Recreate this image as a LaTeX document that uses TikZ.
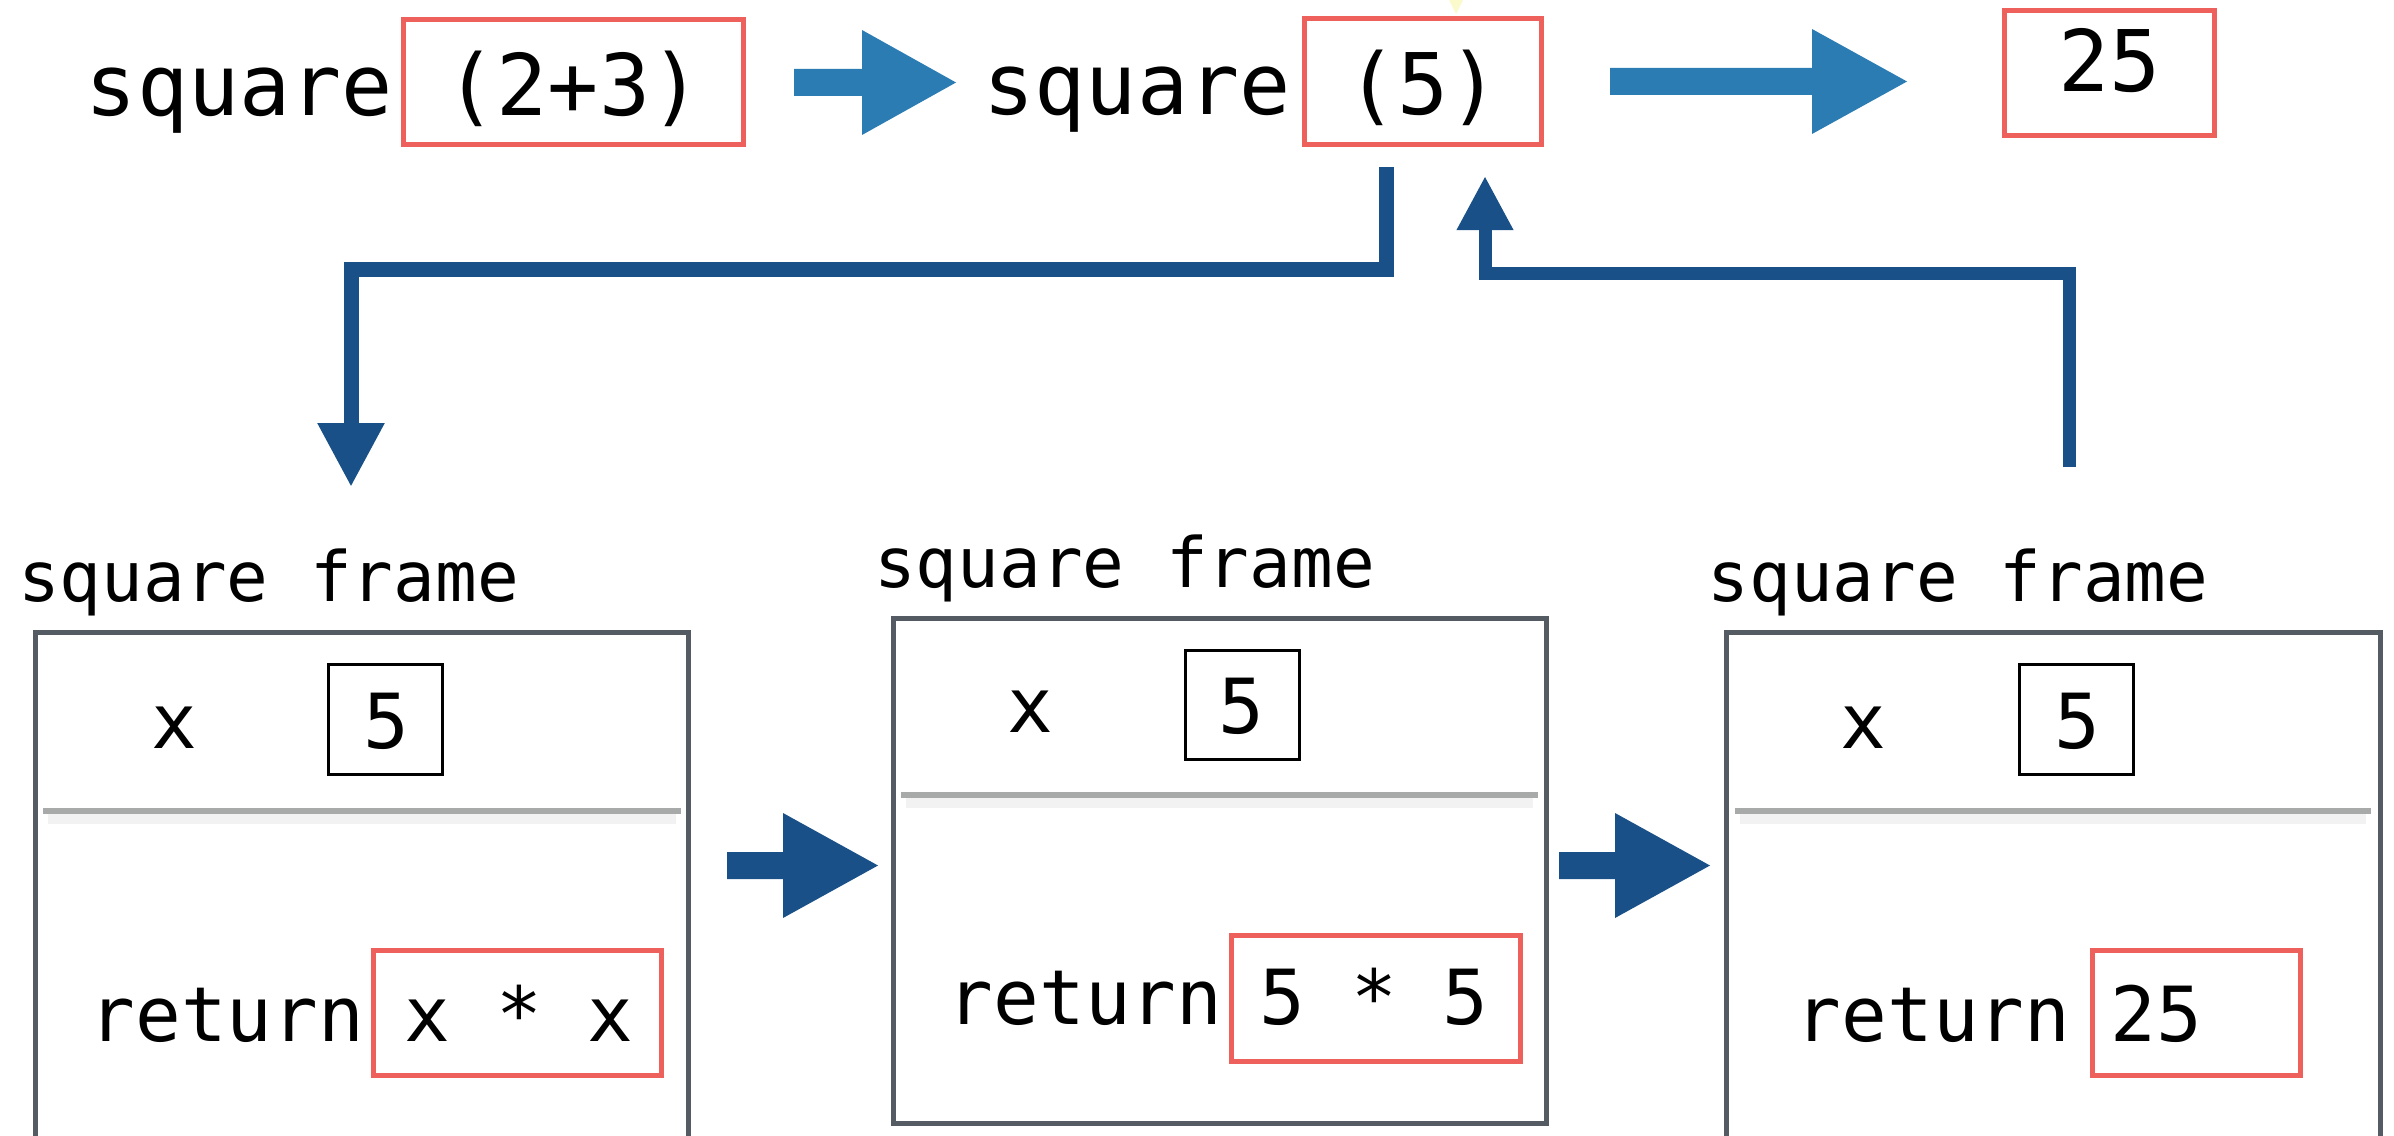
\documentclass[tikz,border=0pt]{standalone}
\usepackage{fontspec}
\newfontfamily\monof{DejaVu Sans Mono}
\usetikzlibrary{arrows.meta,calc}
\definecolor{redbox}{RGB}{238,96,92}
\definecolor{topblue}{RGB}{43,124,178}
\definecolor{darkblue}{RGB}{24,80,135}
\definecolor{framegray}{RGB}{85,91,99}
\definecolor{sepgray}{RGB}{168,170,170}
\definecolor{sepshadow}{RGB}{242,242,242}
\definecolor{pale}{RGB}{250,250,205}
\begin{document}
\begin{tikzpicture}[x=0.3pt,y=-0.3pt,
  every node/.style={inner sep=0pt,outer sep=0pt},
  toptext/.style={font=\monof\fontsize{25.5}{30}\selectfont},
  bodytext/.style={font=\monof\fontsize{22.8}{27}\selectfont,anchor=base},
  labeltext/.style={font=\monof\fontsize{20.8}{25}\selectfont,anchor=base},
  rbox/.style={draw=redbox,line width=1.5pt},
  kbox/.style={draw=black,line width=0.9pt},
  framebox/.style={draw=framegray,line width=1.7pt},
  sepline/.style={draw=sepgray,line width=1.6pt},
  sepshade/.style={draw=sepshadow,line width=3.5pt},
  callconn/.style={draw=darkblue,line width=4.5pt,line join=miter,
    -{Triangle[length=19.2pt,width=18.9pt]}},
  retconn/.style={draw=darkblue,line width=3.9pt,line join=miter,
    -{Triangle[length=16.2pt,width=15.9pt]}}]
\useasboundingbox (0,0) rectangle (2394,1135);
\clip (0,0) rectangle (2394,1135);

% ---------- top row ----------
\node[toptext,anchor=base] (sq1) at (239.5,116) {square};
\node[rbox,toptext,minimum width=340*0.3pt,text height=96.5*0.3pt,text depth=28.5*0.3pt]
  (A) at (573.5,82) {(2+3)};
\node[toptext,anchor=base] (sq2) at (1137,115) {square};
\node[rbox,toptext,minimum width=237*0.3pt,text height=96.5*0.3pt,text depth=29.5*0.3pt]
  (B) at (1423,81.5) {(5)};
\node[rbox,toptext,minimum width=210*0.3pt,text height=81.5*0.3pt,text depth=43.5*0.3pt]
  (C) at (2109.5,73) {25};

\fill[pale] (1449,0) -- (1463,0) -- (1456,14) -- cycle;

% top block arrows
\fill[topblue] (794,69) -- (862,69) -- (862,30) -- (956,82.5) -- (862,135) -- (862,96) -- (794,96) -- cycle;
\fill[topblue] (1610,68) -- (1812,68) -- (1812,29) -- (1907,81.5) -- (1812,134) -- (1812,95) -- (1610,95) -- cycle;

% ---------- frames ----------
\node[framebox,minimum width=653*0.3pt,minimum height=512.5*0.3pt] (F1) at (362,888.75) {};
\node[framebox,minimum width=653*0.3pt,minimum height=505*0.3pt] (F2) at (1220,871) {};
\node[framebox,minimum width=654*0.3pt,minimum height=512.5*0.3pt] (F3) at (2053.5,888.75) {};

\node[labeltext] (L1) at (268.5,601) {square frame};
\node[labeltext] (L2) at (1124.5,587) {square frame};
\node[labeltext] (L3) at (1958,601) {square frame};

% variable rows
\node[bodytext] (x1) at (174,748) {x};
\node[kbox,minimum width=114*0.3pt,minimum height=110*0.3pt] (K1) at (385.5,719.5) {};
\node[bodytext] (v1) at (386,748) {5};
\node[bodytext] (x2) at (1030,732) {x};
\node[kbox,minimum width=114*0.3pt,minimum height=109*0.3pt] (K2) at (1242.5,705) {};
\node[bodytext] (v2) at (1241,733) {5};
\node[bodytext] (x3) at (1863,748) {x};
\node[kbox,minimum width=114*0.3pt,minimum height=110*0.3pt] (K3) at (2076.5,719.5) {};
\node[bodytext] (v3) at (2077,748) {5};

% separators
\draw[sepshade] (48,818) -- (676,818);
\draw[sepshade] (906,802) -- (1533,802);
\draw[sepshade] (1740,818) -- (2366,818);
\draw[sepline] (43,811) -- (681,811);
\draw[sepline] (901,795) -- (1538,795);
\draw[sepline] (1735,811) -- (2371,811);

% return rows
\node[bodytext] (ret1) at (227,1041) {return};
\node[rbox,minimum width=288*0.3pt,minimum height=125*0.3pt] (R1) at (517.5,1013) {};
\node[bodytext] (e1) at (519,1041) {x * x};
\node[bodytext] (ret2) at (1085,1024) {return};
\node[rbox,minimum width=289*0.3pt,minimum height=126*0.3pt] (R2) at (1376,998.5) {};
\node[bodytext] (e2) at (1374,1024) {5 * 5};
\node[bodytext] (ret3) at (1933,1041) {return};
\node[rbox,minimum width=208*0.3pt,minimum height=125*0.3pt] (R3) at (2196.5,1013) {};
\node[bodytext] (e3) at (2156,1041) {25};

% bottom block arrows
\fill[darkblue] (727,852) -- (783,852) -- (783,813) -- (878,865.5) -- (783,918) -- (783,879) -- (727,879) -- cycle;
\fill[darkblue] (1559,852) -- (1615,852) -- (1615,813) -- (1710,865.5) -- (1615,918) -- (1615,879) -- (1559,879) -- cycle;

% ---------- call / return connectors ----------
\coordinate (callS) at ($(B.south)+(-37,22.5)$);
\coordinate (callE) at (351,487);
\draw[callconn] (callS) -- ($(B.south)+(-37,124.5)$) -| (callE);

\coordinate (retS) at (2069,467);
\coordinate (retE) at ($(B.south)+(62,31.5)$);
\draw[retconn] (retS) |- ($(B.south)+(62,128.5)$) -- (retE);
\end{tikzpicture}
\end{document}
